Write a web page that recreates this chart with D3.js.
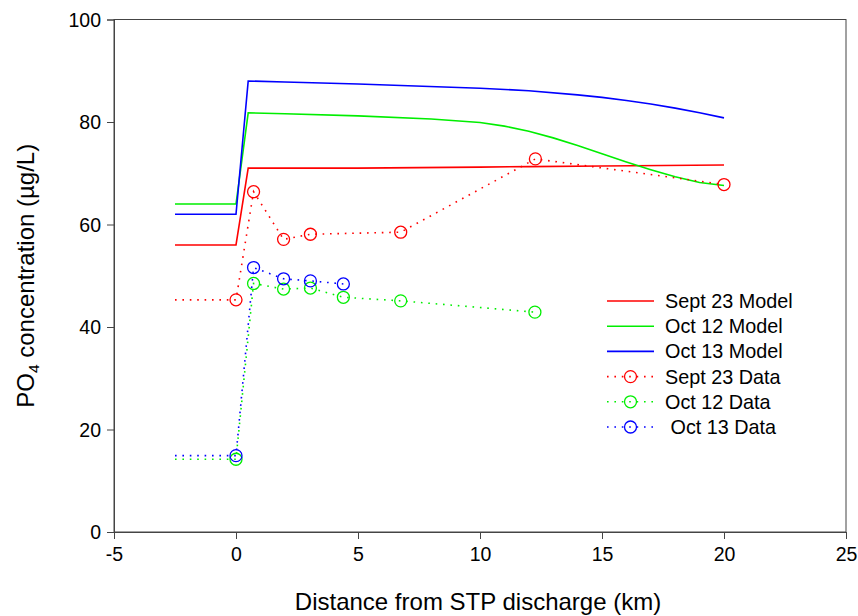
<!DOCTYPE html>
<html>
<head>
<meta charset="utf-8">
<script src="https://cdn.jsdelivr.net/npm/d3@7"></script>
<style>
  body { margin: 0; background: #fff; }
  svg { display: block; font-family: "Liberation Sans", Arial, sans-serif; }
</style>
</head>
<body>
<svg id="chart" width="858" height="616"></svg>
<script>
// Model curves: distance (km) and PO4 (µg/L)
const sept23ModelX = [-2.5, 0, 0.5, 5, 10, 12, 15, 20];
const sept23ModelY = [56, 56, 71, 71, 71.2, 71.3, 71.4, 71.6];

const oct12ModelX = [-2.5, 0, 0.5, 2, 5, 8, 10, 11, 12, 13, 14, 15, 16, 17, 18, 19, 20];
const oct12ModelY = [64, 64, 81.8, 81.6, 81.2, 80.6, 79.9, 79.2, 78.2, 76.9, 75.4, 73.8, 72.2, 70.7, 69.3, 68.2, 67.6];

const oct13ModelX = [-2.5, 0, 0.5, 2, 5, 10, 12, 14, 15, 16, 17, 18, 19, 20];
const oct13ModelY = [62, 62, 88, 87.8, 87.4, 86.6, 86.1, 85.3, 84.8, 84.2, 83.5, 82.7, 81.8, 80.8];

// Measured data (first point of each is the upstream reference, drawn without a marker)
const sept23DataX = [-2.5, 0, 0.72, 1.95, 3.05, 6.75, 12.27, 20];
const sept23DataY = [45.3, 45.3, 66.4, 57.1, 58.1, 58.5, 72.8, 67.8];

const oct12DataX = [-2.5, 0, 0.72, 1.95, 3.05, 4.4, 6.75, 12.25];
const oct12DataY = [14.2, 14.2, 48.5, 47.4, 47.6, 45.8, 45.1, 42.9];

const oct13DataX = [-2.5, 0, 0.72, 1.95, 3.05, 4.4];
const oct13DataY = [14.9, 14.9, 51.6, 49.4, 49.0, 48.4];

const xTicks = [-5, 0, 5, 10, 15, 20, 25];
const yTicks = [0, 20, 40, 60, 80, 100];

const legendLabels = ["Sept 23 Model", "Oct 12 Model", "Oct 13 Model", "Sept 23 Data", "Oct 12 Data", " Oct 13 Data"];

const RED = "#ff0000", GREEN = "#00ee00", BLUE = "#0000ff";

const svg = d3.select("#chart");
const margin = { left: 114, top: 19.5, right: 12, bottom: 84 };
const W = 858, H = 616;

const x = d3.scaleLinear().domain([-5, 25]).range([margin.left, W - margin.right]);
const y = d3.scaleLinear().domain([0, 100]).range([H - margin.bottom, margin.top]);

// Plain hyphen-minus for negative tick labels
const fmt = d => String(d);

// Frame
svg.append("rect")
  .attr("x", x(-5)).attr("y", y(100))
  .attr("width", x(25) - x(-5)).attr("height", y(0) - y(100))
  .attr("fill", "none").attr("stroke", "#444").attr("stroke-width", 1);

// Axes
const xAxis = svg.append("g")
  .attr("transform", `translate(0,${y(0)})`)
  .call(d3.axisBottom(x).tickValues(xTicks).tickSize(7).tickPadding(8).tickFormat(fmt));
const yAxis = svg.append("g")
  .attr("transform", `translate(${x(-5)},0)`)
  .call(d3.axisLeft(y).tickValues(yTicks).tickSize(7).tickPadding(6).tickFormat(fmt));

[xAxis, yAxis].forEach(g => {
  g.select(".domain").attr("stroke", "#444");
  g.selectAll(".tick line").attr("stroke", "#444");
  g.selectAll(".tick text")
    .attr("fill", "#000")
    .style("font-size", "19.5px")
    .style("font-family", "'Liberation Sans', Arial, sans-serif");
});
yAxis.selectAll(".tick text").attr("dy", "0.35em");

// Axis titles
svg.append("text")
  .attr("x", 478).attr("y", 610)
  .attr("text-anchor", "middle")
  .style("font-size", "24px")
  .text("Distance from STP discharge (km)");

const yTitle = svg.append("text")
  .attr("transform", `translate(34,${(y(0) + y(100)) / 2}) rotate(-90)`)
  .attr("text-anchor", "middle")
  .style("font-size", "24px");
yTitle.append("tspan").text("PO");
yTitle.append("tspan").attr("dy", "0.3em").style("font-size", "15.5px").text("4");
yTitle.append("tspan").attr("dy", "-0.2em").text(" concentration (µg/L)");

const line = d3.line().x(d => x(d[0])).y(d => y(d[1]));
const zip = (xs, ys) => xs.map((v, i) => [v, ys[i]]);

const models = [
  { xs: sept23ModelX, ys: sept23ModelY, color: RED },
  { xs: oct12ModelX, ys: oct12ModelY, color: GREEN },
  { xs: oct13ModelX, ys: oct13ModelY, color: BLUE }
];
const datasets = [
  { xs: sept23DataX, ys: sept23DataY, color: RED },
  { xs: oct12DataX, ys: oct12DataY, color: GREEN },
  { xs: oct13DataX, ys: oct13DataY, color: BLUE }
];

// Model lines
models.forEach(m => {
  svg.append("path")
    .datum(zip(m.xs, m.ys))
    .attr("d", line)
    .attr("fill", "none")
    .attr("stroke", m.color)
    .attr("stroke-width", 1.6);
});

// Data: dotted connecting lines + open circle markers
datasets.forEach(s => {
  const pts = zip(s.xs, s.ys);
  svg.append("path")
    .datum(pts)
    .attr("d", line)
    .attr("fill", "none")
    .attr("stroke", s.color)
    .attr("stroke-width", 1.6)
    .attr("stroke-dasharray", "1.6,5.8");
  svg.append("g").selectAll("circle")
    .data(pts.slice(1))
    .join("circle")
    .attr("cx", d => x(d[0]))
    .attr("cy", d => y(d[1]))
    .attr("r", 6)
    .attr("fill", "none")
    .attr("stroke", s.color)
    .attr("stroke-width", 1.3);
});

// Legend
const legend = svg.append("g");
const legendColors = [RED, GREEN, BLUE, RED, GREEN, BLUE];
const lx0 = 607, lx1 = 654, ltx = 665, ly0 = 301, ldy = 25.2;
legendLabels.forEach((label, i) => {
  const ly = ly0 + i * ldy;
  const c = legendColors[i];
  if (i < 3) {
    legend.append("line")
      .attr("x1", lx0).attr("x2", lx1).attr("y1", ly).attr("y2", ly)
      .attr("stroke", c).attr("stroke-width", 1.6);
  } else {
    legend.append("line")
      .attr("x1", lx0).attr("x2", lx1).attr("y1", ly).attr("y2", ly)
      .attr("stroke", c).attr("stroke-width", 1.6)
      .attr("stroke-dasharray", "1.6,5.8");
    legend.append("circle")
      .attr("cx", (lx0 + lx1) / 2).attr("cy", ly).attr("r", 6)
      .attr("fill", "none").attr("stroke", c).attr("stroke-width", 1.3);
  }
  legend.append("text")
    .attr("x", ltx).attr("y", ly).attr("dy", "0.35em")
    .style("font-size", "19.8px")
    .style("white-space", "pre")
    .attr("xml:space", "preserve")
    .text(label);
});
</script>
</body>
</html>
